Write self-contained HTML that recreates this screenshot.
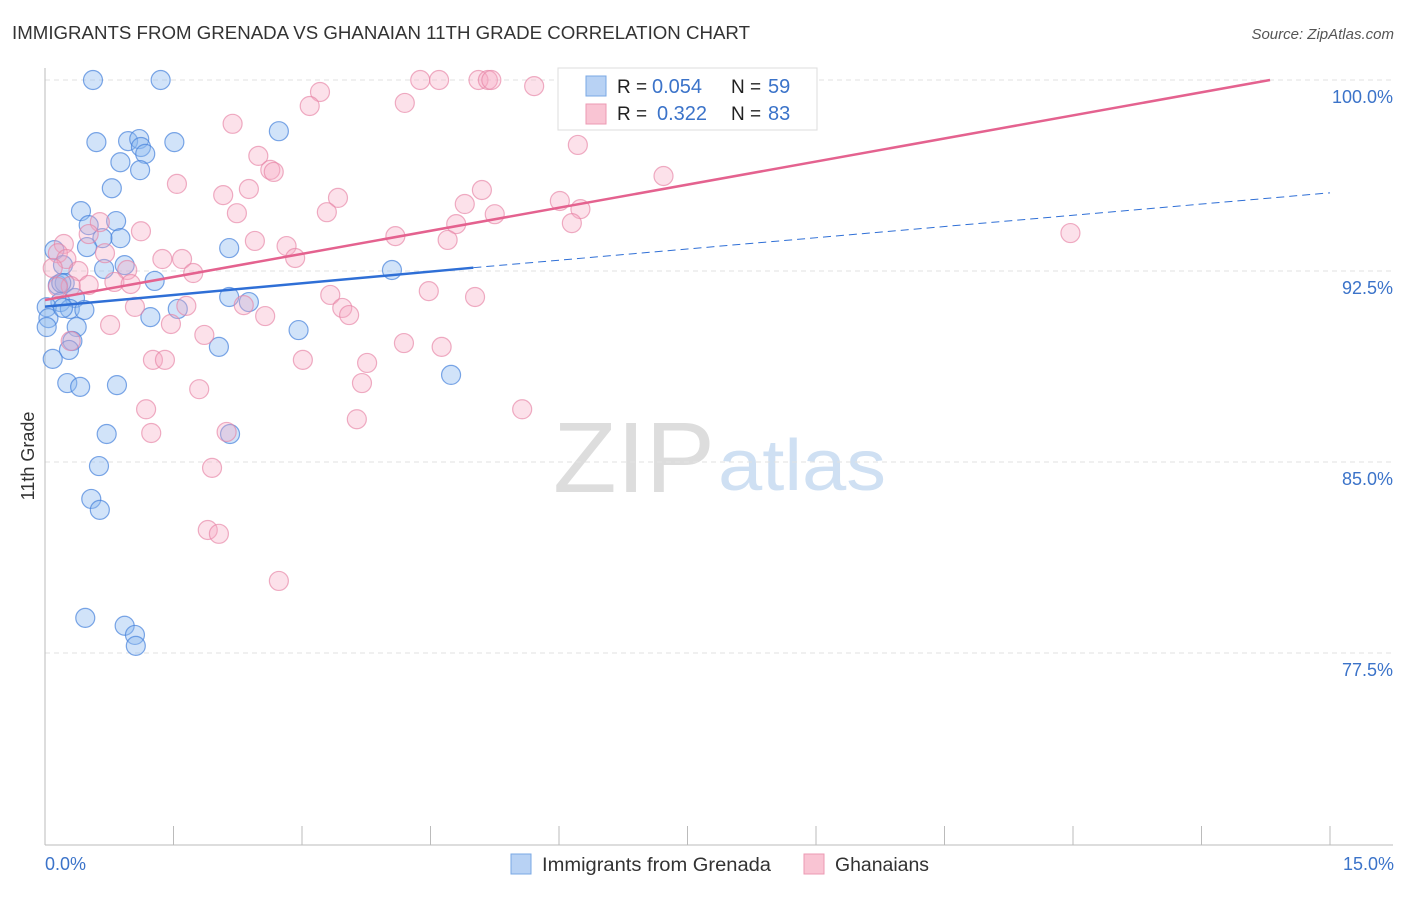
<!DOCTYPE html>
<html><head><meta charset="utf-8"><style>
body{margin:0;background:#fff;font-family:"Liberation Sans",sans-serif;}
svg text{font-family:"Liberation Sans",sans-serif;}
</style></head><body>
<svg id="chart" width="1406" height="892">
<text x="12" y="39" font-size="18" fill="#333" textLength="738" lengthAdjust="spacingAndGlyphs">IMMIGRANTS FROM GRENADA VS GHANAIAN 11TH GRADE CORRELATION CHART</text>
<text x="1394" y="39" font-size="15" fill="#555" font-style="italic" text-anchor="end">Source: ZipAtlas.com</text>
<text x="553" y="492" font-size="100" fill="#ddd" font-family="Liberation Serif" textLength="162" lengthAdjust="spacingAndGlyphs">ZIP</text>
<text x="718" y="490" font-size="72" fill="#cfe0f3" textLength="168" lengthAdjust="spacingAndGlyphs">atlas</text>
<g id="grid"></g><g id="axes"></g><g id="pts"></g><g id="lines"></g>
<text x="34" y="456" font-size="18" fill="#333" transform="rotate(-90 34 456)" text-anchor="middle">11th Grade</text>
<text x="45" y="870" font-size="18" fill="#3b73c9">0.0%</text>
<text x="1394" y="870" font-size="18" fill="#3b73c9" text-anchor="end">15.0%</text>
<g>
<rect x="558" y="68" width="259" height="62" fill="#fff" stroke="#ddd"/>
<rect x="586" y="76" width="20" height="20" fill="#b8d2f4" stroke="#7aa8e4"/>
<rect x="586" y="104" width="20" height="20" fill="#f9c4d3" stroke="#ec9ab3"/>
<text x="617" y="93" font-size="19" fill="#222">R =</text>
<text x="652" y="93" font-size="20" fill="#3b73c9">0.054</text>
<text x="731" y="93" font-size="19" fill="#222">N =</text>
<text x="768" y="93" font-size="20" fill="#3b73c9">59</text>
<text x="617" y="120" font-size="19" fill="#222">R =</text>
<text x="657" y="120" font-size="20" fill="#3b73c9">0.322</text>
<text x="731" y="120" font-size="19" fill="#222">N =</text>
<text x="768" y="120" font-size="20" fill="#3b73c9">83</text>
</g>
<g>
<rect x="511" y="854" width="20" height="20" fill="#b8d2f4" stroke="#7aa8e4"/>
<text x="542" y="871" font-size="19" fill="#333" textLength="229" lengthAdjust="spacingAndGlyphs">Immigrants from Grenada</text>
<rect x="804" y="854" width="20" height="20" fill="#f9c4d3" stroke="#ec9ab3"/>
<text x="835" y="871" font-size="19" fill="#333" textLength="94" lengthAdjust="spacingAndGlyphs">Ghanaians</text>
</g>
</svg>
<script>
const yTicks=[100,92.5,85,77.5];
const xTicks=[0,1.5,3,4.5,6,7.5,9,10.5,12,13.5,15];
const blueX=[0.56,1.35,0.6,0.97,1.1,1.12,1.17,1.51,2.73,0.88,1.11,0.78,0.42,0.51,0.83,0.88,0.67,0.49,0.11,2.15,0.93,0.21,0.69,4.05,1.28,0.15,0.23,0.18,0.35,2.15,2.38,0.02,0.29,0.46,1.55,1.23,0.04,0.37,0.02,2.96,2.03,0.32,0.28,0.09,0.26,0.41,0.84,4.74,0.72,2.16,0.63,0.54,0.64,0.47,0.93,1.05,1.06,0.19,0.21];
const blueY=[100,100,97.56,97.6,97.68,97.37,97.1,97.56,97.99,96.77,96.46,95.75,94.85,94.3,94.46,93.79,93.79,93.44,93.32,93.4,92.73,92.73,92.58,92.54,92.11,91.95,92.03,91.28,91.44,91.48,91.28,91.08,91.01,90.97,91.01,90.69,90.65,90.3,90.3,90.18,89.52,89.75,89.4,89.05,88.1,87.95,88.02,88.42,86.1,86.1,84.84,83.55,83.12,78.88,78.57,78.21,77.78,92.03,91.05];
const pinkX=[4.38,4.6,5.06,5.17,5.21,5.71,6.92,3.21,3.09,4.2,2.19,6.22,2.49,2.63,2.67,7.22,1.54,2.38,2.08,3.42,5.1,4.9,6.01,6.25,6.15,2.24,3.29,5.25,4.8,1.12,0.64,0.51,11.97,4.09,4.7,2.45,2.82,0.22,0.15,0.7,0.25,1.37,1.6,2.92,0.96,0.39,1.73,0.09,0.51,0.81,1.0,0.3,0.15,3.33,4.48,5.02,1.05,1.65,3.47,3.55,2.57,0.76,1.47,1.86,0.3,4.19,4.63,1.26,1.4,3.01,3.76,3.7,1.8,5.57,1.18,3.64,1.24,2.12,1.95,1.9,2.03,2.73,2.32];
const pinkY=[100,100,100,100,100,99.76,100,99.53,98.98,99.1,98.28,97.45,97.02,96.47,96.39,96.23,95.92,95.72,95.48,95.37,95.68,95.13,95.25,94.93,94.38,94.77,94.81,94.73,94.34,94.06,94.42,93.95,93.99,93.87,93.72,93.68,93.48,93.56,93.2,93.2,92.97,92.97,92.97,93.01,92.54,92.5,92.42,92.62,91.95,92.07,91.99,91.91,91.87,91.56,91.71,91.48,91.09,91.13,91.05,90.77,90.73,90.38,90.42,89.99,89.75,89.67,89.52,89.01,89.01,89.01,88.89,88.1,87.86,87.07,87.07,86.68,86.14,86.18,84.77,82.33,82.18,80.33,91.16];
const X=v=>45+v/15*1285, Y=v=>80+(100-v)/7.5*191;
const ns='http://www.w3.org/2000/svg';
function mk(t,a,p){const e=document.createElementNS(ns,t);for(const k in a)e.setAttribute(k,a[k]);p.appendChild(e);return e;}
const grid=document.getElementById('grid'),axes=document.getElementById('axes'),pts=document.getElementById('pts'),lines=document.getElementById('lines');
yTicks.forEach(v=>{
 const l=mk('line',{x1:45,x2:1393,y1:Y(v),y2:Y(v),stroke:'#e2e2e2','stroke-dasharray':'5,4'},grid);
 
 
 const t=mk('text',{x:1393,y:Y(v)+23,'font-size':18,fill:'#3b73c9','text-anchor':'end'},grid);
 t.textContent=v.toFixed(1)+'%';
 
 
});
mk('line',{x1:45,x2:45,y1:68,y2:845,stroke:'#bbb'},axes);
mk('line',{x1:45,x2:1393,y1:845,y2:845,stroke:'#bbb'},axes);
xTicks.forEach(v=>{
 const l=mk('line',{x1:X(v),x2:X(v),y1:826,y2:845,stroke:'#bbb'},axes);
 
 
});
blueX.forEach((x,i)=>{
 const c=mk('circle',{cx:X(x),cy:Y(blueY[i]),r:9.5,fill:'rgba(140,185,240,0.4)',stroke:'rgba(70,130,220,0.7)','stroke-width':1.2},pts);
 
 
});
pinkX.forEach((x,i)=>{
 const c=mk('circle',{cx:X(x),cy:Y(pinkY[i]),r:9.5,fill:'rgba(245,170,195,0.35)',stroke:'rgba(230,130,165,0.65)','stroke-width':1.2},pts);
 
 
});
const bl=mk('line',{x1:X(0),y1:Y(91.1),x2:X(5),y2:Y(92.63),stroke:'#2f6fd6','stroke-width':2.5},lines);


const bd=mk('line',{x1:X(5),y1:Y(92.63),x2:X(15),y2:Y(95.57),stroke:'#2f6fd6','stroke-width':1,'stroke-dasharray':'8,5'},lines);


const pl=mk('line',{x1:X(0),y1:Y(91.36),x2:X(14.3),y2:Y(100),stroke:'#e4628f','stroke-width':2.5},lines);


</script>
</body></html>
